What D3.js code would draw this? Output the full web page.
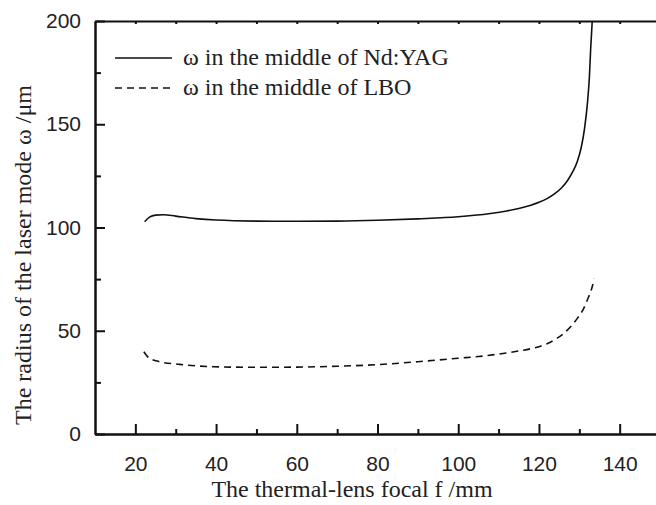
<!DOCTYPE html>
<html>
<head>
<meta charset="utf-8">
<script src="https://cdn.jsdelivr.net/npm/d3@7"></script>
<style>
  body { margin: 0; background: #fff; }
  svg { display: block; }
  .tick text { font-family: "Liberation Sans", Arial, sans-serif; font-size: 21px; fill: #222; }
  .ttl { font-family: "Liberation Serif", "Times New Roman", serif; font-size: 24px; fill: #222; }
</style>
</head>
<body>
<div id="chart"></div>
<script>
// thermal-lens focal f (mm) vs mode radius (um)
const yagF = [22.3, 23.5, 25, 27, 30, 35, 40, 50, 60, 70, 80, 90, 100, 104, 108, 112, 115, 118, 120, 122, 124, 125.5, 127, 128.5, 129.5, 130.5, 131.3, 132, 132.5, 132.8, 133.2];
const yagW = [102.8, 105, 106, 106.2, 105.5, 104.3, 103.6, 103.1, 103, 103.1, 103.5, 104.2, 105.2, 105.9, 106.8, 108, 109.2, 110.8, 112.2, 114, 116.5, 119, 122.5, 127.5, 132, 139, 148, 160, 173, 186, 200];
const lboF = [22.1, 23, 25.4, 31, 39.4, 50, 60, 70, 80, 90, 100, 105, 110, 115, 118, 120, 122, 124, 126, 128, 129.5, 131, 132, 133, 133.7];
const lboW = [39.8, 37.5, 35.3, 33.7, 32.6, 32.3, 32.4, 32.8, 33.6, 35, 36.7, 37.5, 38.7, 40.2, 41.3, 42.3, 43.7, 45.8, 48.5, 52.3, 56, 60.5, 65, 70, 75.2];

const xMajor = [20, 40, 60, 80, 100, 120, 140];
const xMinor = [30, 50, 70, 90, 110, 130];
const xTop = [20, 30, 40, 50, 60, 70, 80, 90, 100, 110, 120, 130, 140];
const yMajor = [0, 50, 100, 150, 200];
const yMinor = [25, 75, 125, 175];

const legendNames = ["ω in the middle of Nd:YAG", "ω in the middle of LBO"];

const W = 656, H = 505;
const padL = 95, padT = 21, padB = 434;

const x = d3.scaleLinear().domain([10, 149]).range([padL, W]);
const y = d3.scaleLinear().domain([0, 200]).range([padB, padT]);

const svg = d3.select("#chart").append("svg")
    .attr("width", W)
    .attr("height", H);

// axes
function styleAxis(g) {
    g.select(".domain").attr("stroke", "#111").attr("stroke-width", 2);
    g.selectAll(".tick line").attr("stroke", "#111").attr("stroke-width", 2);
}

svg.append("g")
    .attr("transform", `translate(0,${padB})`)
    .call(d3.axisBottom(x).tickValues(xMajor).tickSize(-10).tickSizeOuter(0).tickPadding(22))
    .call(styleAxis);

svg.append("g")
    .attr("transform", `translate(0,${padB})`)
    .call(d3.axisBottom(x).tickValues(xMinor).tickSize(-5).tickSizeOuter(0).tickFormat(""))
    .call(styleAxis);

svg.append("g")
    .attr("transform", `translate(${padL},0)`)
    .call(d3.axisLeft(y).tickValues(yMajor).tickSize(-10).tickSizeOuter(0).tickPadding(14))
    .call(styleAxis);

svg.append("g")
    .attr("transform", `translate(${padL},0)`)
    .call(d3.axisLeft(y).tickValues(yMinor).tickSize(-6).tickSizeOuter(0).tickFormat(""))
    .call(styleAxis);

// top axis, small ticks only
svg.append("g")
    .attr("transform", `translate(0,${padT})`)
    .call(d3.axisTop(x).tickValues(xTop).tickSize(-3).tickSizeOuter(0).tickFormat(""))
    .call(styleAxis);

// curves
const line = d3.line()
    .x(d => x(d[0]))
    .y(d => y(d[1]))
    .curve(d3.curveMonotoneX);

svg.append("path")
    .datum(yagF.map((f, i) => [f, yagW[i]]))
    .attr("d", line)
    .attr("fill", "none")
    .attr("stroke", "#111")
    .attr("stroke-width", 1.6);

svg.append("path")
    .datum(lboF.map((f, i) => [f, lboW[i]]))
    .attr("d", line)
    .attr("fill", "none")
    .attr("stroke", "#111")
    .attr("stroke-width", 1.6)
    .attr("stroke-dasharray", "7,5");

// legend
const leg = svg.append("g");
legendNames.forEach((name, i) => {
    const ly = 58 + i * 30;
    leg.append("line")
        .attr("x1", 115).attr("x2", 172)
        .attr("y1", ly).attr("y2", ly)
        .attr("stroke", "#111")
        .attr("stroke-width", 1.6)
        .attr("stroke-dasharray", i === 1 ? "7,5" : null);
    leg.append("text")
        .attr("class", "ttl")
        .attr("x", 183)
        .attr("y", ly + 7)
        .text(name);
});

// axis titles
svg.append("text")
    .attr("class", "ttl")
    .attr("x", 352)
    .attr("y", 497)
    .attr("text-anchor", "middle")
    .text("The thermal-lens focal f /mm");

svg.append("text")
    .attr("class", "ttl")
    .attr("transform", "translate(31,255) rotate(-90)")
    .attr("text-anchor", "middle")
    .text("The radius of the laser mode ω /μm");
</script>
</body>
</html>
